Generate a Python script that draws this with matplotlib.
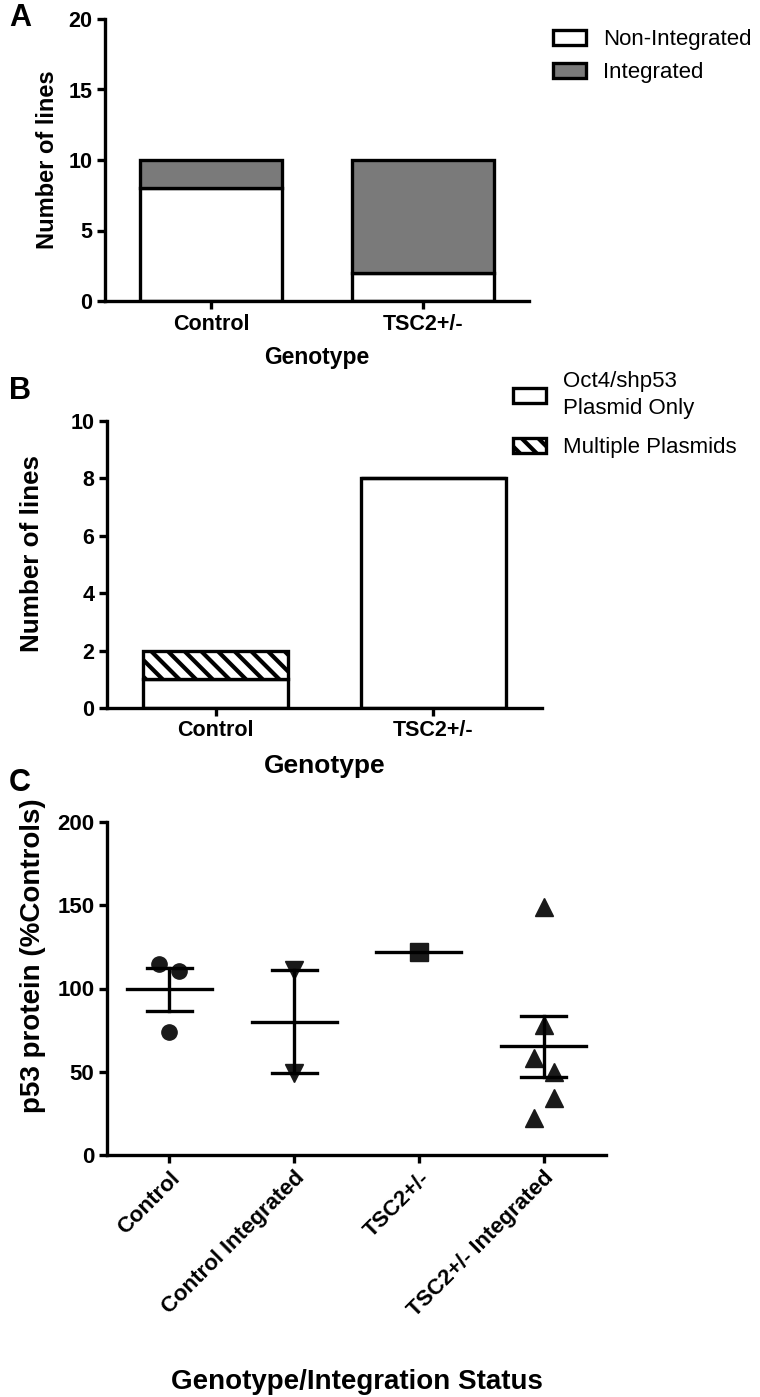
import matplotlib
matplotlib.use("Agg")
import matplotlib.pyplot as plt
import numpy as np
from matplotlib.patches import Patch

plt.rcParams['font.family'] = ['Liberation Sans', 'DejaVu Sans']
plt.rcParams['hatch.linewidth'] = 3.0

# ---- data ----
genotypes = ["Control", "TSC2+/-"]
nonintegrated = [8, 2]
integrated = [2, 8]

oct4_only = [1, 8]
multiple = [1, 0]

groups_c = ["Control", "Control Integrated", "TSC2+/-", "TSC2+/- Integrated"]
control_vals = [114.7, 110.3, 74.0]
control_int_vals = [111.0, 49.0]
tsc2_vals = [122.0]
tsc2_int_vals = [149.0, 78.0, 58.0, 50.0, 34.0, 22.0]

LW = 2.4
GREY = '#7a7a7a'

fig = plt.figure(figsize=(7.6, 13.97), dpi=100)

def style_axes(ax, ls=15.5):
    for s in ['top', 'right']:
        ax.spines[s].set_visible(False)
    for s in ['left', 'bottom']:
        ax.spines[s].set_linewidth(LW)
    ax.tick_params(axis='both', width=LW, length=6, labelsize=ls, pad=3)
    for lab in ax.get_xticklabels() + ax.get_yticklabels():
        lab.set_fontweight('bold')

# ---------------- Panel A ----------------
axA = fig.add_axes([105/760, 1-301/1397, 424/760, 282/1397])
x = np.arange(len(genotypes))
bw = 0.667
axA.bar(x, nonintegrated, bw, color='white', edgecolor='black', linewidth=LW, label='Non-Integrated')
axA.bar(x, integrated, bw, bottom=nonintegrated, color=GREY, edgecolor='black', linewidth=LW, label='Integrated')
axA.set_xlim(-0.5, 1.5)
axA.set_ylim(0, 20)
axA.set_yticks([0, 5, 10, 15, 20])
axA.set_xticks(x)
axA.set_xticklabels(genotypes)
style_axes(axA)
axA.set_ylabel("Number of lines", fontsize=17, fontweight='bold', labelpad=7)
axA.set_xlabel("Genotype", fontsize=16.5, fontweight='bold', labelpad=8)
hA = [Patch(facecolor='white', edgecolor='black', linewidth=LW),
      Patch(facecolor=GREY, edgecolor='black', linewidth=LW)]
axA.legend(hA, ['Non-Integrated', 'Integrated'], loc='upper left',
           bbox_to_anchor=(553/760, 1-29/1397), bbox_transform=fig.transFigure,
           frameon=False, fontsize=16, handlelength=1.5, handleheight=0.65,
           handletextpad=0.75, labelspacing=0.55, borderpad=0, borderaxespad=0)
fig.text(9/760, 1-18/1397, "A", fontsize=22, fontweight='bold', va='center', ha='left')

# ---------------- Panel B ----------------
axB = fig.add_axes([107/760, 1-708/1397, 435/760, 287/1397])
axB.bar(x, oct4_only, bw, color='white', edgecolor='black', linewidth=LW)
axB.bar(x, multiple, bw, bottom=oct4_only, color='white', edgecolor='black', linewidth=LW, hatch='\\\\')
axB.set_xlim(-0.5, 1.5)
axB.set_ylim(0, 10)
axB.set_yticks([0, 2, 4, 6, 8, 10])
axB.set_xticks(x)
axB.set_xticklabels(genotypes)
style_axes(axB)
axB.set_ylabel("Number of lines", fontsize=18.7, fontweight='bold')
axB.yaxis.set_label_coords(-0.145, 0.54)
axB.set_xlabel("Genotype", fontsize=19, fontweight='bold', labelpad=9)
hB = [Patch(facecolor='white', edgecolor='black', linewidth=LW),
      Patch(facecolor='white', edgecolor='black', linewidth=LW, hatch='\\\\')]
legB = axB.legend(hB, ['Oct4/shp53\nPlasmid Only', 'Multiple Plasmids'], loc='upper left',
                  bbox_to_anchor=(513/760, 1-371/1397), bbox_transform=fig.transFigure,
                  frameon=False, fontsize=16, handlelength=1.5, handleheight=0.7,
                  handletextpad=0.75, labelspacing=0.8, borderpad=0, borderaxespad=0)
for t in legB.get_texts():
    t.set_linespacing(1.4)
fig.text(9/760, 1-391/1397, "B", fontsize=22, fontweight='bold', va='center', ha='left')

# ---------------- Panel C ----------------
axC = fig.add_axes([107/760, 1-1155/1397, 499/760, 333/1397])
data_c = [control_vals, control_int_vals, tsc2_vals, tsc2_int_vals]
markers = ['o', 'v', 's', '^']
msizes = [11, 13, 12.5, 13]
offsets = [[-0.08, 0.08, 0.0], [0.0, 0.0], [0.0], [0.0, 0.0, -0.08, 0.08, 0.08, -0.08]]
for i, (vals, m, ms, off) in enumerate(zip(data_c, markers, msizes, offsets)):
    vals = np.asarray(vals)
    xs = i + np.asarray(off)
    axC.plot(xs, vals, linestyle='none', marker=m, color='#1a1a1a', markersize=ms, zorder=3)
    mean = vals.mean()
    axC.plot([i - 0.34, i + 0.34], [mean, mean], color='black', lw=LW, zorder=4)
    if len(vals) > 1:
        sem = vals.std(ddof=1) / np.sqrt(len(vals))
        axC.plot([i, i], [mean - sem, mean + sem], color='black', lw=LW, zorder=4)
        for yv in (mean - sem, mean + sem):
            axC.plot([i - 0.18, i + 0.18], [yv, yv], color='black', lw=LW, zorder=4)
axC.set_xlim(-0.5, 3.5)
axC.set_ylim(0, 200)
axC.set_yticks([0, 50, 100, 150, 200])
axC.set_xticks(range(4))
axC.set_xticklabels(groups_c, rotation=45, ha='right', rotation_mode='anchor')
style_axes(axC, ls=16)
axC.set_ylabel("p53 protein (%Controls)", fontsize=20, fontweight='bold')
axC.yaxis.set_label_coords(-0.122, 0.6)
axC.set_xlabel("Genotype/Integration Status", fontsize=20, fontweight='bold', labelpad=34)
fig.text(9/760, 1-783/1397, "C", fontsize=22, fontweight='bold', va='center', ha='left')

fig.savefig("out.png", dpi=100)
